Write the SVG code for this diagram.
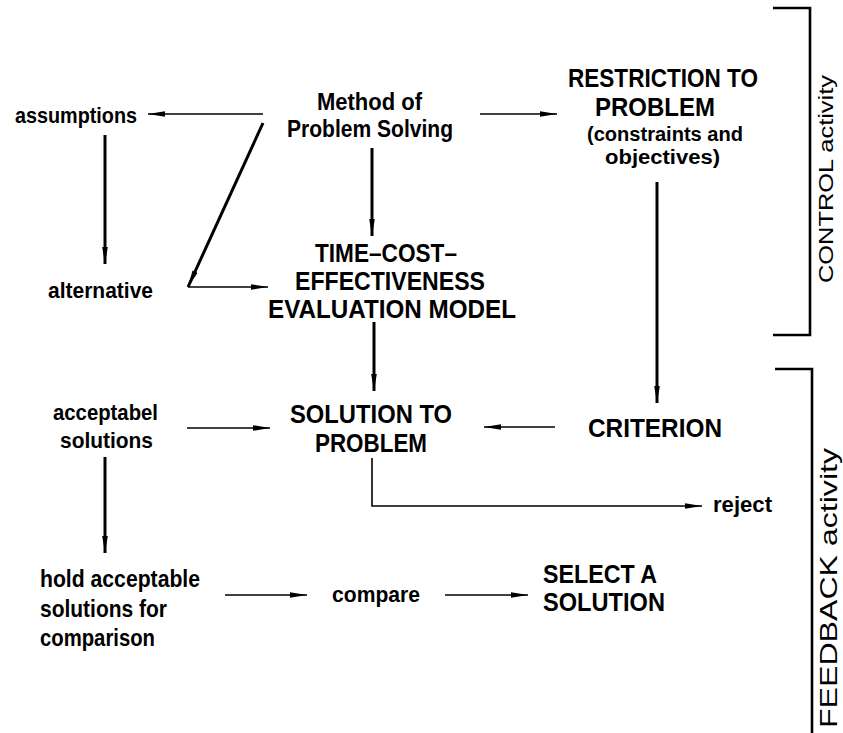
<svg xmlns="http://www.w3.org/2000/svg" width="843" height="733" viewBox="0 0 843 733">
  <style>
    text { font-family: "Liberation Sans", Arial, sans-serif; font-weight: bold; fill: #000; }
    .caps { font-size: 25px; }
    .big { font-size: 26px; }
    .low { font-size: 22px; }
    .small { font-size: 20px; }
    .mid { font-size: 23px; }
    .side { font-weight: normal; }
    .thin { stroke: #000; stroke-width: 1.6; fill: none; }
    .thick { stroke: #000; stroke-width: 3; fill: none; }
    .bracket { stroke: #000; stroke-width: 2.6; fill: none; }
  </style>
  <defs>
    <marker id="ah" markerUnits="userSpaceOnUse" markerWidth="18" markerHeight="8" refX="17" refY="4" orient="auto">
      <path d="M0,1.2 L17,4 L0,6.8 Z" fill="#000"/>
    </marker>
  </defs>
  <rect width="843" height="733" fill="#fff"/>

  <!-- connectors -->
  <g id="connectors">
    <line class="thin" x1="263" y1="114" x2="148" y2="114" marker-end="url(#ah)"/>
    <line class="thin" x1="480" y1="114" x2="557" y2="114" marker-end="url(#ah)"/>
    <line class="thick" x1="105" y1="135" x2="105" y2="264" marker-end="url(#ah)"/>
    <line class="thick" x1="372" y1="148" x2="372" y2="236" marker-end="url(#ah)"/>
    <line class="thick" x1="263" y1="123" x2="188" y2="287" marker-end="url(#ah)"/>
    <line class="thin" x1="188" y1="287" x2="268" y2="287" marker-end="url(#ah)"/>
    <line class="thick" x1="657" y1="182" x2="657" y2="403" marker-end="url(#ah)"/>
    <line class="thick" x1="374" y1="322" x2="374" y2="391" marker-end="url(#ah)"/>
    <line class="thin" x1="187" y1="428" x2="270" y2="428" marker-end="url(#ah)"/>
    <line class="thin" x1="555" y1="427" x2="484" y2="427" marker-end="url(#ah)"/>
    <polyline class="thin" points="372,458 372,506 702,506" marker-end="url(#ah)"/>
    <line class="thick" x1="105" y1="457" x2="105" y2="553" marker-end="url(#ah)"/>
    <line class="thin" x1="225" y1="595" x2="307" y2="595" marker-end="url(#ah)"/>
    <line class="thin" x1="445" y1="595" x2="528" y2="595" marker-end="url(#ah)"/>
  </g>

  <!-- activity brackets -->
  <g id="control-bracket">
    <polyline class="bracket" points="773,8 810,8 810,335 773,335"/>
    <text class="side" font-size="21" transform="translate(833,283) rotate(-90)" textLength="208" lengthAdjust="spacingAndGlyphs">CONTROL activity</text>
  </g>
  <g id="feedback-bracket">
    <polyline class="bracket" points="775,369 812,369 812,733"/>
    <text class="side" font-size="24" transform="translate(837,728) rotate(-90)" textLength="280" lengthAdjust="spacingAndGlyphs">FEEDBACK activity</text>
  </g>

  <!-- nodes -->
  <g id="assumptions">
    <text class="low" x="15" y="123" textLength="122" lengthAdjust="spacingAndGlyphs">assumptions</text>
  </g>
  <g id="method">
    <text class="mid" x="317" y="110" textLength="105" lengthAdjust="spacingAndGlyphs">Method of</text>
    <text class="mid" x="287" y="137" textLength="166" lengthAdjust="spacingAndGlyphs">Problem Solving</text>
  </g>
  <g id="restriction">
    <text class="big" x="568" y="87" textLength="190" lengthAdjust="spacingAndGlyphs">RESTRICTION TO</text>
    <text class="big" x="595" y="116" textLength="120" lengthAdjust="spacingAndGlyphs">PROBLEM</text>
    <text class="small" x="587" y="141" textLength="156" lengthAdjust="spacingAndGlyphs">(constraints and</text>
    <text class="small" x="605" y="164" textLength="115" lengthAdjust="spacingAndGlyphs">objectives)</text>
  </g>
  <g id="alternative">
    <text class="low" x="48" y="298" textLength="105" lengthAdjust="spacingAndGlyphs">alternative</text>
  </g>
  <g id="evaluation-model">
    <text class="caps" x="315" y="262" textLength="142" lengthAdjust="spacingAndGlyphs">TIME–COST–</text>
    <text class="caps" x="295" y="290" textLength="190" lengthAdjust="spacingAndGlyphs">EFFECTIVENESS</text>
    <text class="caps" x="268" y="318" textLength="248" lengthAdjust="spacingAndGlyphs">EVALUATION MODEL</text>
  </g>
  <g id="acceptable-solutions">
    <text class="low" x="53" y="420" textLength="105" lengthAdjust="spacingAndGlyphs">acceptabel</text>
    <text class="low" x="60" y="448" textLength="93" lengthAdjust="spacingAndGlyphs">solutions</text>
  </g>
  <g id="solution">
    <text class="caps" x="290" y="423" textLength="162" lengthAdjust="spacingAndGlyphs">SOLUTION TO</text>
    <text class="caps" x="315" y="452" textLength="112" lengthAdjust="spacingAndGlyphs">PROBLEM</text>
  </g>
  <g id="criterion">
    <text class="caps" x="588" y="437" textLength="134" lengthAdjust="spacingAndGlyphs">CRITERION</text>
  </g>
  <g id="reject">
    <text class="low" x="713" y="512" textLength="59" lengthAdjust="spacingAndGlyphs">reject</text>
  </g>
  <g id="hold">
    <text class="mid" x="40" y="587" textLength="160" lengthAdjust="spacingAndGlyphs">hold acceptable</text>
    <text class="mid" x="40" y="617" textLength="127" lengthAdjust="spacingAndGlyphs">solutions for</text>
    <text class="mid" x="40" y="646" textLength="115" lengthAdjust="spacingAndGlyphs">comparison</text>
  </g>
  <g id="compare">
    <text class="low" x="332" y="602" textLength="88" lengthAdjust="spacingAndGlyphs">compare</text>
  </g>
  <g id="select">
    <text class="caps" x="543" y="583" textLength="114" lengthAdjust="spacingAndGlyphs">SELECT A</text>
    <text class="caps" x="543" y="611" textLength="122" lengthAdjust="spacingAndGlyphs">SOLUTION</text>
  </g>
</svg>
